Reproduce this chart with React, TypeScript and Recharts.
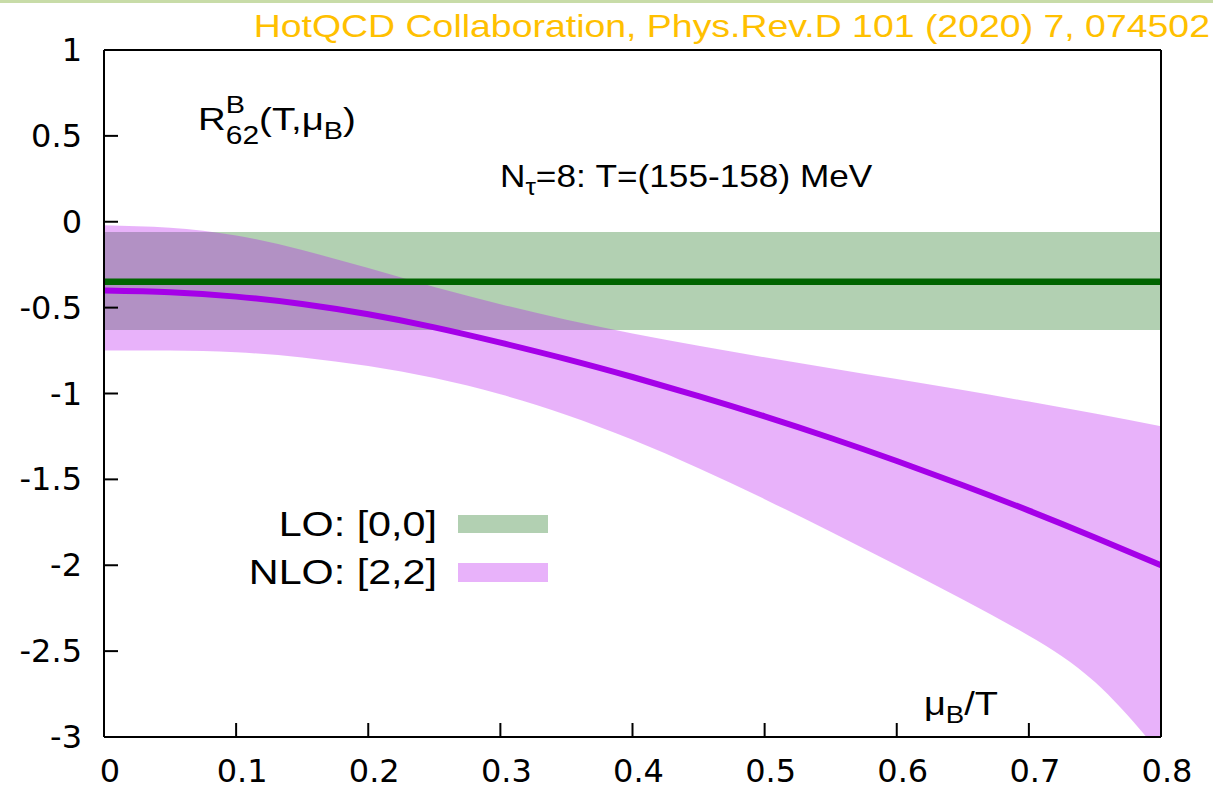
import React from "react";
import {
  ComposedChart,
  Area,
  Line,
  XAxis,
  YAxis,
  Customized,
} from "recharts";

// mu_B / T grid
const muValues = [0, 0.05, 0.1, 0.15, 0.2, 0.25, 0.3, 0.35, 0.4, 0.45, 0.5, 0.55, 0.6, 0.65, 0.7, 0.75, 0.8];
// NLO [2,2] central curve and band edges
const nloCentral = [-0.4, -0.41, -0.436, -0.479, -0.539, -0.615, -0.704, -0.8, -0.904, -1.015, -1.133, -1.259, -1.393, -1.534, -1.682, -1.838, -2.0];
const nloUpper = [-0.02, -0.035, -0.08, -0.165, -0.27, -0.38, -0.48, -0.57, -0.65, -0.722, -0.789, -0.853, -0.916, -0.98, -1.047, -1.117, -1.19];
const nloLower = [-0.75, -0.75, -0.76, -0.79, -0.84, -0.91, -1.005, -1.125, -1.27, -1.435, -1.615, -1.805, -2.0, -2.2, -2.41, -2.68, -3.1];
// LO [0,0] constant value and band
const loCentral = [-0.35];
const loBandEdges = [-0.63, -0.06];

const xTicks = [0, 0.1, 0.2, 0.3, 0.4, 0.5, 0.6, 0.7, 0.8];
const yTicks = [1, 0.5, 0, -0.5, -1, -1.5, -2, -2.5, -3];

const table = muValues.map((m, i) => ({
  mu: m,
  loBand: [loBandEdges[0], loBandEdges[1]],
  loMid: loCentral[0],
  nloBand: [nloLower[i], nloUpper[i]],
  nloMid: nloCentral[i],
}));

const ARIAL = "'Liberation Sans', Arial, Helvetica, sans-serif";
const DEJAVU = "'DejaVu Sans', sans-serif";

const GREEN_FILL = "#006400";
const PURPLE_FILL = "#b400f0";
const BAND_OPACITY = 0.3;

function Stretch({ x, y, sx, children }: any) {
  return <g transform={`translate(${x},${y}) scale(${sx},1)`}>{children}</g>;
}

function YTick(props: any) {
  const { x, y, payload } = props;
  return (
    <text x={x} y={y + 11} textAnchor="end" fontFamily={DEJAVU} fontSize={32} fill="#000">
      {String(payload.value)}
    </text>
  );
}

function XTick(props: any) {
  const { x, y, payload } = props;
  return (
    <text x={x + 6} y={y + 23} textAnchor="middle" fontFamily={DEJAVU} fontSize={32} fill="#000">
      {String(payload.value)}
    </text>
  );
}

function Annotations() {
  return (
    <g>
      <rect x={0} y={0} width={1213} height={3} fill="#c8dca8" />
      <Stretch x={1210} y={37} sx={1.17}>
        <text x={0} y={0} textAnchor="end" fontFamily={ARIAL} fontSize={32} fill="#ffc000">
          HotQCD Collaboration, Phys.Rev.D 101 (2020) 7, 074502
        </text>
      </Stretch>
      <Stretch x={198} y={130} sx={1.2}>
        <text x={0} y={0} fontFamily={ARIAL} fontSize={32} fill="#000">
          R
          <tspan dy={-17} fontSize={24}>B</tspan>
          <tspan dx={-16} dy={31} fontSize={25}>62</tspan>
          <tspan dy={-14}>(T,μ</tspan>
          <tspan dy={9} fontSize={24}>B</tspan>
          <tspan dy={-9}>)</tspan>
        </text>
      </Stretch>
      <Stretch x={500} y={187} sx={1.1}>
        <text x={0} y={0} fontFamily={ARIAL} fontSize={32} fill="#000">
          N
          <tspan dy={8} fontSize={24}>τ</tspan>
          <tspan dy={-8}>=8: T=(155-158) MeV</tspan>
        </text>
      </Stretch>
      <Stretch x={924} y={715} sx={1.15}>
        <text x={0} y={0} fontFamily={ARIAL} fontSize={33} fill="#000">
          μ
          <tspan dy={8} fontSize={24}>B</tspan>
          <tspan dy={-8}>/T</tspan>
        </text>
      </Stretch>
      {/* legend */}
      <Stretch x={437} y={536} sx={1.18}>
        <text x={0} y={0} textAnchor="end" fontFamily={ARIAL} fontSize={35} fill="#000">
          LO: [0,0]
        </text>
      </Stretch>
      <rect x={458} y={515} width={90} height={18} fill={GREEN_FILL} fillOpacity={BAND_OPACITY} />
      <Stretch x={437} y={584} sx={1.18}>
        <text x={0} y={0} textAnchor="end" fontFamily={ARIAL} fontSize={35} fill="#000">
          NLO: [2,2]
        </text>
      </Stretch>
      <rect x={458} y={563} width={90} height={19} fill={PURPLE_FILL} fillOpacity={BAND_OPACITY} />
    </g>
  );
}

export default function App() {
  return (
    <div style={{ position: "absolute", left: 0, top: 0, width: 1213, height: 793, background: "#fff" }}>
      <ComposedChart
        width={1213}
        height={793}
        data={table}
        margin={{ top: 0, right: 0, bottom: 0, left: 0 }}
      >
        <XAxis
          dataKey="mu"
          type="number"
          domain={[0, 0.8]}
          ticks={xTicks}
          height={56}
          tickSize={-14}
          tickMargin={36}
          tick={<XTick />}
          axisLine={{ stroke: "#000", strokeWidth: 2 }}
          tickLine={{ stroke: "#000", strokeWidth: 2 }}
          allowDataOverflow
        />
        <XAxis
          xAxisId="top"
          orientation="top"
          type="number"
          domain={[0, 0.8]}
          ticks={xTicks}
          height={50}
          tickSize={-14}
          tick={false}
          axisLine={{ stroke: "#000", strokeWidth: 2 }}
          tickLine={{ stroke: "#000", strokeWidth: 2 }}
          allowDataOverflow
        />
        <YAxis
          type="number"
          domain={[-3, 1]}
          ticks={yTicks}
          width={104}
          tickSize={-14}
          tickMargin={36}
          tick={<YTick />}
          axisLine={{ stroke: "#000", strokeWidth: 2 }}
          tickLine={{ stroke: "#000", strokeWidth: 2 }}
          allowDataOverflow
        />
        <YAxis
          yAxisId="right"
          orientation="right"
          type="number"
          domain={[-3, 1]}
          ticks={yTicks}
          width={52}
          tickSize={-14}
          tick={false}
          axisLine={{ stroke: "#000", strokeWidth: 2 }}
          tickLine={{ stroke: "#000", strokeWidth: 2 }}
          allowDataOverflow
        />
        <Area
          dataKey="loBand"
          type="linear"
          fill={GREEN_FILL}
          fillOpacity={BAND_OPACITY}
          stroke="none"
          isAnimationActive={false}
        />
        <Area
          dataKey="nloBand"
          type="natural"
          fill={PURPLE_FILL}
          fillOpacity={BAND_OPACITY}
          stroke="none"
          isAnimationActive={false}
        />
        <Line
          dataKey="loMid"
          type="linear"
          stroke="#006400"
          strokeWidth={6.5}
          dot={false}
          isAnimationActive={false}
        />
        <Line
          dataKey="nloMid"
          type="natural"
          stroke="#a500e8"
          strokeWidth={6}
          dot={false}
          isAnimationActive={false}
        />
        <Customized component={Annotations} />
      </ComposedChart>
    </div>
  );
}
